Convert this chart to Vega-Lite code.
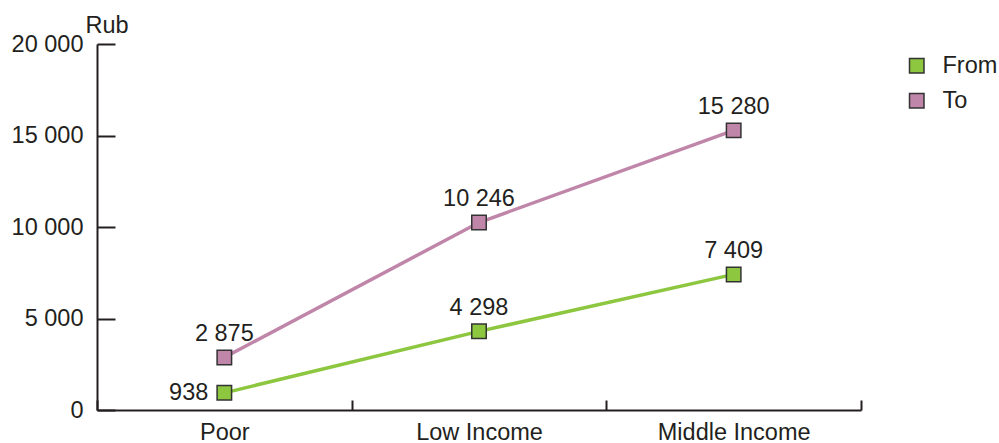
{
  "$schema": "https://vega.github.io/schema/vega-lite/v6.json",
  "width": 764,
  "height": 366,
  "autosize": "none",
  "padding": {"left": 97, "top": 44, "right": 138, "bottom": 33},
  "background": "white",
  "config": {
    "locale": {"number": {"decimal": ".", "thousands": " ", "grouping": [3], "currency": ["", ""]}},
    "font": "Liberation Sans",
    "view": {"stroke": null},
    "axis": {
      "domainColor": "#231f20",
      "domainWidth": 2,
      "tickColor": "#231f20",
      "tickWidth": 2,
      "labelColor": "#231f20",
      "labelFontSize": 23.5,
      "labelFont": "Liberation Sans",
      "titleColor": "#231f20",
      "titleFont": "Liberation Sans",
      "titleFontSize": 23.5,
      "titleFontWeight": "normal",
      "grid": false
    },
    "legend": {
      "title": null,
      "orient": "none",
      "legendX": 808,
      "legendY": 10,
      "symbolType": "square",
      "symbolSize": 210,
      "symbolStrokeColor": "#333333",
      "symbolStrokeWidth": 1.5,
      "symbolOpacity": 1,
      "labelFont": "Liberation Sans",
      "labelFontSize": 23.5,
      "labelColor": "#231f20",
      "labelOffset": 14,
      "rowPadding": 10
    }
  },
  "data": {
    "values": [
      {"group": "Poor", "series": "From", "value": 938},
      {"group": "Low Income", "series": "From", "value": 4298},
      {"group": "Middle Income", "series": "From", "value": 7409},
      {"group": "Poor", "series": "To", "value": 2875},
      {"group": "Low Income", "series": "To", "value": 10246},
      {"group": "Middle Income", "series": "To", "value": 15280}
    ]
  },
  "encoding": {
    "x": {
      "field": "group",
      "type": "nominal",
      "sort": ["Poor", "Low Income", "Middle Income"],
      "scale": {"type": "band", "paddingInner": 0, "paddingOuter": 0},
      "axis": {
        "title": null,
        "labelAngle": 0,
        "tickBand": "extent",
        "tickSize": -10,
        "labelPadding": 20
      }
    },
    "y": {
      "field": "value",
      "type": "quantitative",
      "scale": {"domain": [0, 20000]},
      "axis": {
        "values": [0, 5000, 10000, 15000, 20000],
        "format": ",d",
        "tickSize": -18,
        "labelPadding": 32,
        "title": "Rub",
        "titleAngle": 0,
        "titleAlign": "left",
        "titleBaseline": "alphabetic",
        "titleX": -12,
        "titleY": -12
      }
    }
  },
  "layer": [
    {
      "transform": [{"filter": "datum.series == 'From'"}],
      "mark": {"type": "line", "strokeWidth": 3.5, "stroke": "#8dc63f"},
      "encoding": {}
    },
    {
      "transform": [{"filter": "datum.series == 'To'"}],
      "mark": {"type": "line", "strokeWidth": 3.5, "stroke": "#c086a9"},
      "encoding": {}
    },
    {
      "mark": {"type": "point", "shape": "square", "filled": true, "size": 210, "opacity": 1, "stroke": "#333333", "strokeWidth": 1.5},
      "encoding": {
        "fill": {
          "field": "series",
          "type": "nominal",
          "scale": {"domain": ["From", "To"], "range": ["#8dc63f", "#c086a9"]}
        }
      }
    },
    {
      "transform": [{"filter": "datum.value != 938"}],
      "mark": {"type": "text", "fontSize": 23.5, "color": "#231f20", "baseline": "alphabetic", "dy": -16},
      "encoding": {"text": {"field": "value", "type": "quantitative", "format": ",d"}}
    },
    {
      "transform": [{"filter": "datum.value == 938"}],
      "mark": {"type": "text", "fontSize": 23.5, "color": "#231f20", "align": "right", "baseline": "middle", "dx": -16},
      "encoding": {"text": {"field": "value", "type": "quantitative", "format": ",d"}}
    }
  ]
}
